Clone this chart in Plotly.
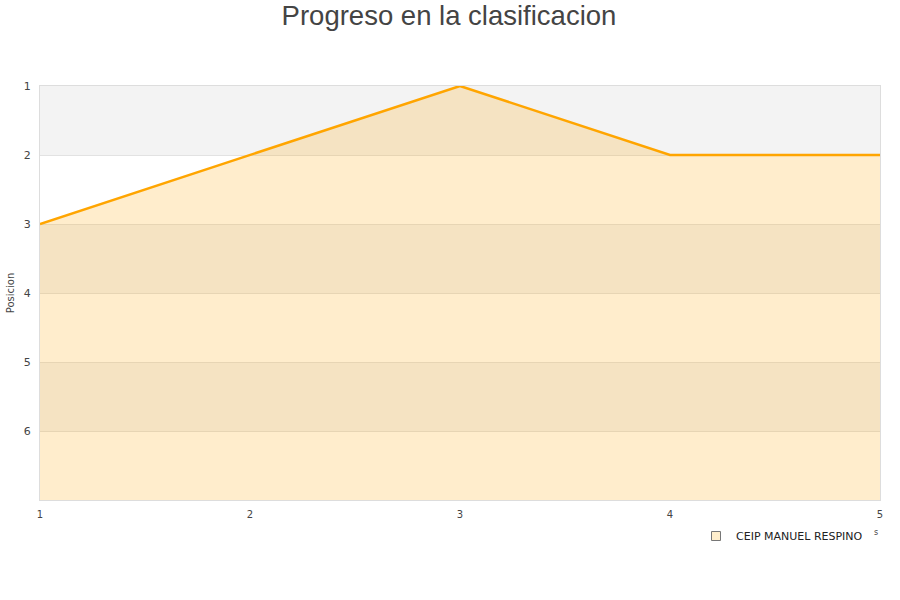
import plotly.graph_objects as go

jornadas = [1, 2, 3, 4, 5]
posicion = [3, 2, 1, 2, 2]
team = "CEIP MANUEL RESPINO"
y_ticks = [1, 2, 3, 4, 5, 6]
x_ticks = [1, 2, 3, 4, 5]

fig = go.Figure()
# baseline for fill
fig.add_trace(go.Scatter(x=jornadas, y=[7] * len(jornadas), mode="lines",
                         line=dict(width=0), showlegend=False, hoverinfo="skip"))
fig.add_trace(go.Scatter(x=jornadas, y=posicion, mode="lines", fill="tonexty",
                         fillcolor="rgba(255,165,0,0.2)",
                         line=dict(color="#ffa500", width=2.5),
                         name=team, showlegend=False))
# legend entry
fig.add_trace(go.Scatter(x=[None], y=[None], mode="markers", name=team,
                         marker=dict(symbol="square", size=9, color="#ffeecc",
                                     line=dict(color="#777", width=1))))

shapes = []
for lo in [1, 3, 5]:
    shapes.append(dict(type="rect", xref="paper", yref="y", x0=0, x1=1, y0=lo, y1=lo + 1,
                       fillcolor="#f3f3f3", line=dict(width=0), layer="below"))

fig.update_layout(
    width=900, height=600,
    paper_bgcolor="white", plot_bgcolor="white",
    margin=dict(l=40, r=20, t=86, b=100, autoexpand=False),
    title=dict(text="Progreso en la clasificacion", x=449 / 900, xanchor="center",
               yref="container", y=1 - 15 / 600, yanchor="middle",
               font=dict(family="Liberation Sans, Arial", size=27.5, color="#444")),
    shapes=shapes,
    showlegend=True,
    legend=dict(xref="container", x=696 / 900, xanchor="left",
                yref="container", y=1 - 536 / 600, yanchor="middle",
                bgcolor="rgba(0,0,0,0)",
                font=dict(family="DejaVu Sans", size=11, color="#222")),
    font=dict(family="DejaVu Sans", size=11, color="#444"),
)
fig.update_xaxes(range=[1, 5], tickvals=x_ticks, showgrid=False, zeroline=False,
                 showline=True, linecolor="#ddd", mirror=True, ticks="outside", ticklen=5,
                 tickcolor="rgba(0,0,0,0)",
                 automargin=False, tickfont=dict(size=10, color="#444"))
fig.update_yaxes(range=[7, 1], tickvals=y_ticks, showgrid=True, gridcolor="#e2e2e2",
                 zeroline=False, showline=True, linecolor="#ddd", mirror=True,
                 ticks="outside", ticklen=6, tickcolor="rgba(0,0,0,0)",
                 automargin=False, tickfont=dict(size=11, color="#444"),
                 title=dict(text="Posicion", font=dict(size=10, color="#444"), standoff=7))
fig.add_annotation(x=0.995, xref="paper", y=-32 / 414, yref="paper", text="s", showarrow=False,
                   font=dict(size=8, color="#444"), xanchor="center", yanchor="middle")
fig.write_html("out.html", config={"displayModeBar": False},
               post_script="document.body.style.margin='0';")
